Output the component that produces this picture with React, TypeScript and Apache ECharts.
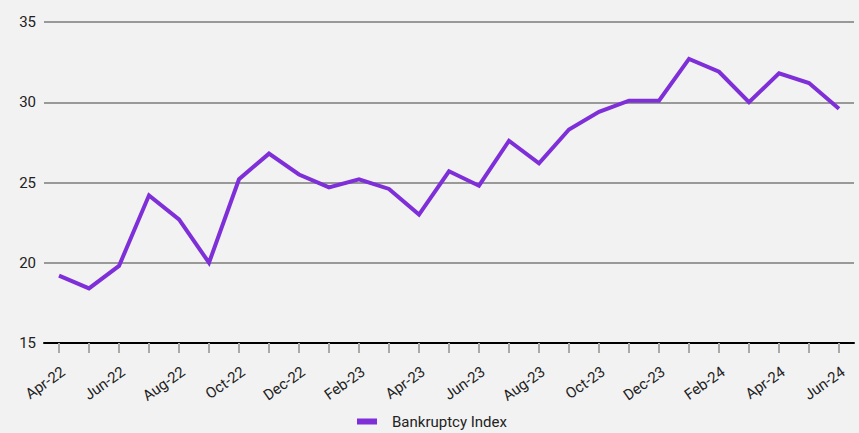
import React, { useEffect, useRef } from "react";
import * as echarts from "echarts";

const categories = [
  "Apr-22", "May-22", "Jun-22", "Jul-22", "Aug-22", "Sep-22", "Oct-22", "Nov-22", "Dec-22",
  "Jan-23", "Feb-23", "Mar-23", "Apr-23", "May-23", "Jun-23", "Jul-23", "Aug-23", "Sep-23",
  "Oct-23", "Nov-23", "Dec-23", "Jan-24", "Feb-24", "Mar-24", "Apr-24", "May-24", "Jun-24",
];
const bankruptcyIndex = [
  19.2, 18.4, 19.8, 24.2, 22.7, 20.0, 25.2, 26.8, 25.5,
  24.7, 25.2, 24.6, 23.0, 25.7, 24.8, 27.6, 26.2, 28.3,
  29.4, 30.1, 30.1, 32.7, 31.9, 30.0, 31.8, 31.2, 29.6,
];
const seriesName = "Bankruptcy Index";

export default function App() {
  const ref = useRef<HTMLDivElement>(null);
  useEffect(() => {
    const chart = echarts.init(ref.current!, null, { renderer: "svg" });
    chart.setOption({
      animation: false,
      backgroundColor: "#f2f2f2",
      textStyle: { fontFamily: "Roboto" },
      grid: { left: 44, right: 5, top: 22, bottom: 90, containLabel: false },
      legend: {
        top: 409,
        left: 352,
        itemWidth: 20,
        itemHeight: 6,
        itemGap: 10,
        icon: "rect",
        textStyle: { fontSize: 15, color: "#222", fontFamily: "Roboto", padding: [0, 0, 0, 10] },
        data: [seriesName],
      },
      xAxis: {
        type: "category",
        data: categories,
        boundaryGap: true,
        axisLine: { lineStyle: { color: "#000", width: 2 } },
        axisTick: { show: true, alignWithLabel: true, interval: 0, length: 10, lineStyle: { color: "#aaa", width: 2 } },
        axisLabel: { interval: 1, rotate: 35, fontSize: 15, color: "#222", margin: 21, verticalAlign: "top", align: "right", padding: [0, 0, 0, 0] },
      },
      yAxis: {
        type: "value",
        min: 15,
        max: 35,
        interval: 5,
        axisLine: { show: false },
        axisTick: { show: false },
        axisLabel: { fontSize: 15, color: "#222", margin: 8 },
        splitLine: { lineStyle: { color: "#999", width: 2 } },
      },
      series: [
        {
          name: seriesName,
          type: "line",
          data: bankruptcyIndex,
          showSymbol: false,
          symbol: "none",
          itemStyle: { color: "#7f2fd8" },
          lineStyle: { color: "#7f2fd8", width: 4, join: "miter" },
        },
      ],
    });
    return () => chart.dispose();
  }, []);
  return <div ref={ref} style={{ width: 859, height: 433, position: "absolute", left: 0, top: 0 }} />;
}
